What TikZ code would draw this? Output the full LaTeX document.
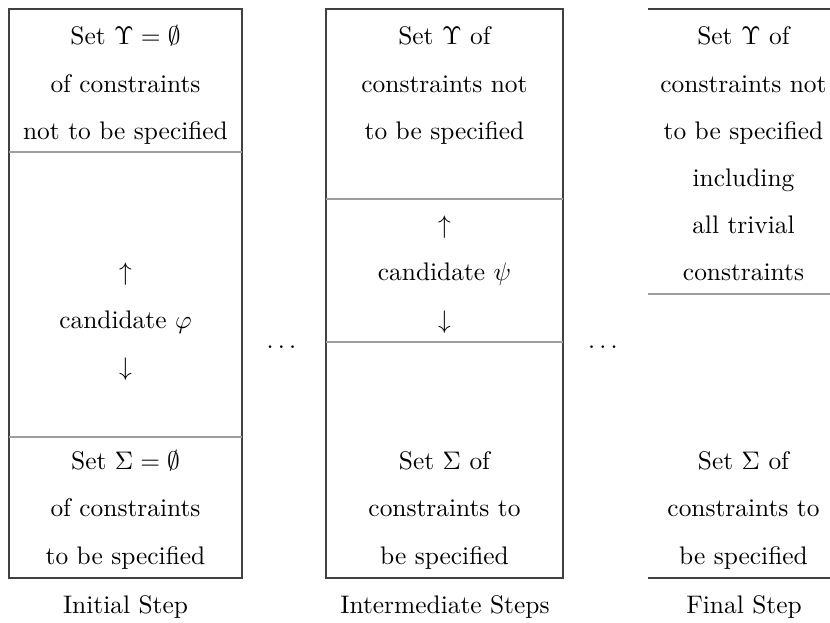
\documentclass[tikz,border=0pt]{standalone}
\begin{document}
\begin{tikzpicture}[x=0.3937pt,y=-0.3937pt,
  frame/.style={draw=black!75, line width=0.45pt},
  divider/.style={draw=black!38, line width=0.6pt},
  txt/.style={anchor=base, inner sep=0pt, outer sep=0pt}]
\useasboundingbox (0,0) rectangle (830,623);

% column outlines
\draw[frame] (9,9) rectangle (242,578);
\draw[frame] (326,9) rectangle (563,578);
\draw[frame] (648,9) -- (830,9);
\draw[frame] (648,578) -- (830,578);

% section dividers
\draw[divider] (9,152) -- (242,152);
\draw[divider] (9,437) -- (242,437);
\draw[divider] (326,199) -- (563,199);
\draw[divider] (326,342) -- (563,342);
\draw[divider] (648,294) -- (830,294);

% initial step
\node[txt] (a0) at (125.5,45)    {Set $\Upsilon=\emptyset$};
\node[txt] (a1) at (125.5,92.2)  {of constraints};
\node[txt] (a2) at (125.5,139.4) {not to be specified};
\node[txt] (a5) at (125.5,281)   {$\uparrow$};
\node[txt] (a6) at (125.5,328.2) {candidate $\varphi$};
\node[txt] (a7) at (125.5,375.4) {$\downarrow$};
\node[txt] (a9) at (125.5,469.8) {Set $\Sigma=\emptyset$};
\node[txt] (a10) at (125.5,517)  {of constraints};
\node[txt] (a11) at (125.5,564.2) {to be specified};

% intermediate steps
\node[txt] (b0) at (444.5,45)    {Set $\Upsilon$ of};
\node[txt] (b1) at (444.5,92.2)  {constraints not};
\node[txt] (b2) at (444.5,139.4) {to be specified};
\node[txt] (b4) at (444.5,233.8) {$\uparrow$};
\node[txt] (b5) at (444.5,281)   {candidate $\psi$};
\node[txt] (b6) at (444.5,328.2) {$\downarrow$};
\node[txt] (b9) at (444.5,469.8) {Set $\Sigma$ of};
\node[txt] (b10) at (444.5,517)  {constraints to};
\node[txt] (b11) at (444.5,564.2) {be specified};

% final step
\node[txt] (c0) at (743.5,45)    {Set $\Upsilon$ of};
\node[txt] (c1) at (743.5,92.2)  {constraints not};
\node[txt] (c2) at (743.5,139.4) {to be specified};
\node[txt] (c3) at (743.5,186.6) {including};
\node[txt] (c4) at (743.5,233.8) {all trivial};
\node[txt] (c5) at (743.5,281)   {constraints};
\node[txt] (c9) at (743.5,469.8) {Set $\Sigma$ of};
\node[txt] (c10) at (743.5,517)  {constraints to};
\node[txt] (c11) at (743.5,564.2) {be specified};

% ellipses between the columns
\node[txt] (d1) at (281.5,348.5) {$\ldots$};
\node[txt] (d2) at (603,348.5)   {$\ldots$};

% captions
\node[txt] (l1) at (125.5,614) {Initial Step};
\node[txt] (l2) at (445,614)   {Intermediate Steps};
\node[txt] (l3) at (744,614)   {Final Step};
\end{tikzpicture}
\end{document}
